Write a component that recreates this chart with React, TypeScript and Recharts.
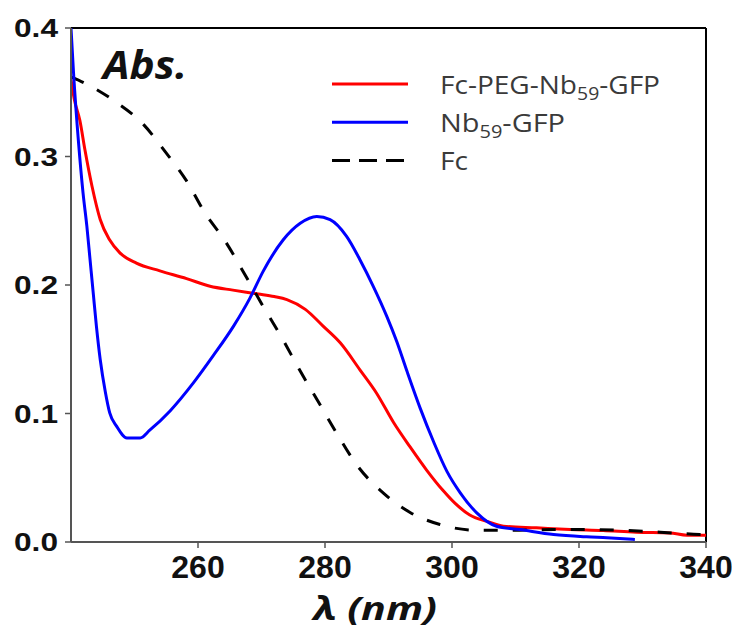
import React from "react"
import { LineChart, Line, XAxis, YAxis, ReferenceLine } from "recharts"

// absorbance spectra (nm, Abs.)
const fcPegNm = [240, 240.5, 241.4, 242.2, 243.3, 244.6, 246.1, 247.7, 250.3, 254, 258.2, 261.9, 265.5, 269.5, 272, 274, 276.9, 279.7, 282.4, 285.5, 288.1, 290.8, 293.4, 296, 298.6, 300.5, 302.8, 305.5, 308.1, 313.3, 318.6, 323.8, 329, 334.3, 337, 340]
const fcPegAbs = [0.36, 0.345, 0.328, 0.305, 0.277, 0.251, 0.235, 0.225, 0.217, 0.211, 0.205, 0.199, 0.196, 0.193, 0.191, 0.1886, 0.181, 0.168, 0.155, 0.134, 0.116, 0.093, 0.074, 0.056, 0.04, 0.03, 0.021, 0.016, 0.0123, 0.011, 0.0097, 0.0089, 0.0076, 0.0071, 0.0053, 0.0053]

const nbGfpNm = [240, 240.4, 241.2, 241.9, 242.5, 243, 243.5, 244, 244.6, 245.4, 246.1, 247.2, 248.8, 250.9, 252.4, 255.6, 259.3, 262.4, 265.6, 268.2, 270.3, 273.4, 276.1, 278.7, 280.8, 283.4, 285.5, 287.6, 289.7, 291.3, 292.9, 295, 297.1, 299.2, 301.3, 303.9, 307, 310.7, 316, 321.2, 324.4, 328.8]
const nbGfpAbs = [0.4, 0.365, 0.31, 0.2715, 0.2456, 0.2197, 0.1938, 0.168, 0.142, 0.117, 0.1005, 0.09, 0.081, 0.081, 0.087, 0.102, 0.124, 0.145, 0.168, 0.19, 0.211, 0.235, 0.248, 0.2533, 0.2508, 0.2378, 0.2197, 0.199, 0.176, 0.156, 0.133, 0.104, 0.078, 0.055, 0.0383, 0.0227, 0.0123, 0.0097, 0.0058, 0.004, 0.0033, 0.002]

const fcNm = [240, 243, 246.9, 251.4, 254.8, 258.2, 261.1, 264.3, 267.4, 270.3, 273.2, 276.1, 278.9, 281.8, 285, 289.2, 293.4, 298.1, 303.9, 309.6, 315.9, 321.2, 326.5, 332.8, 339, 340]
const fcAbs = [0.362, 0.355, 0.343, 0.325, 0.304, 0.281, 0.256, 0.234, 0.208, 0.183, 0.159, 0.133, 0.1095, 0.085, 0.06, 0.038, 0.023, 0.0136, 0.0092, 0.0092, 0.0097, 0.0097, 0.0092, 0.0076, 0.0058, 0.0056]

const xTicks = [260, 280, 300, 320, 340]
const yTicks = [0, 0.1, 0.2, 0.3, 0.4]

const toPoints = (nm: number[], abs: number[]) => nm.map((x, i) => ({ nm: x, abs: abs[i] }))

const series = [
  { key: "fcpeg", name: "Fc-PEG-Nb59-GFP", color: "#ff0000", dash: undefined, data: toPoints(fcPegNm, fcPegAbs) },
  { key: "fc", name: "Fc", color: "#000000", dash: "14 15", data: toPoints(fcNm, fcAbs) },
  { key: "nbgfp", name: "Nb59-GFP", color: "#0000ff", dash: undefined, data: toPoints(nbGfpNm, nbGfpAbs) },
]
const legendOrder = ["fcpeg", "nbgfp", "fc"]
// rendered text widths in the legend, px
const legendWidth: Record<string, number> = { fcpeg: 220, nbgfp: 125, fc: 28 }

const YTick = ({ x, y, payload }: any) => (
  <text
    x={x - 5}
    y={y}
    textAnchor="end"
    dominantBaseline="central"
    fontFamily="Liberation Sans, Arial, sans-serif"
    fontWeight="bold"
    fontSize={26}
    fill="#111"
    textLength={44}
    lengthAdjust="spacingAndGlyphs"
  >
    {Number(payload.value).toFixed(1)}
  </text>
)

const XTick = ({ x, y, payload }: any) => (
  <text
    x={x}
    y={y + 28}
    textAnchor="middle"
    fontFamily="Liberation Sans, Arial, sans-serif"
    fontWeight="bold"
    fontSize={32}
    fill="#111"
  >
    {payload.value}
  </text>
)

// "Nb59" -> Nb with subscript 59
const withSub = (name: string) => {
  const parts = name.split("59")
  return parts.map((p, i) => (
    <React.Fragment key={i}>
      {i > 0 && (
        <tspan dy={6} fontSize={18}>
          59
        </tspan>
      )}
      <tspan dy={i > 0 ? -6 : 0}>{p}</tspan>
    </React.Fragment>
  ))
}

export default function App() {
  return (
    <div style={{ position: "absolute", left: 0, top: 0, width: 732, height: 634, background: "#fff" }}>
      <LineChart width={732} height={634} margin={{ top: 28, right: 26, bottom: 32, left: 0 }}>
        <XAxis
          type="number"
          dataKey="nm"
          domain={[240, 340]}
          ticks={xTicks}
          allowDataOverflow
          height={60}
          stroke="#555"
          axisLine={{ stroke: "#555", strokeWidth: 2 }}
          tickLine={{ stroke: "#555", strokeWidth: 1.5 }}
          tickSize={6}
          tick={<XTick />}
        />
        <YAxis
          type="number"
          domain={[0, 0.4]}
          ticks={yTicks}
          allowDataOverflow
          width={71}
          axisLine={{ stroke: "#555", strokeWidth: 2 }}
          tickLine={{ stroke: "#555", strokeWidth: 1.5 }}
          tickSize={6}
          tick={<YTick />}
        />
        <ReferenceLine y={0.4} stroke="#000" strokeWidth={2} />
        <ReferenceLine x={340} stroke="#000" strokeWidth={2} />
        {series.map((s) => (
          <Line
            key={s.key}
            data={s.data}
            dataKey="abs"
            name={s.name}
            type="monotone"
            stroke={s.color}
            strokeWidth={3}
            strokeDasharray={s.dash}
            dot={false}
            activeDot={false}
            isAnimationActive={false}
          />
        ))}
      </LineChart>
      <svg width={732} height={634} style={{ position: "absolute", left: 0, top: 0, pointerEvents: "none" }}>
        <text
          x={103}
          y={79}
          fontFamily="Open Sans, sans-serif"
          fontWeight="bold"
          fontStyle="italic"
          fontSize={40}
          fill="#111"
          textLength={84}
          lengthAdjust="spacingAndGlyphs"
        >
          Abs.
        </text>
        {legendOrder.map((k, i) => {
          const s = series.find((d) => d.key === k)!
          const cy = 84 + i * 38.3
          return (
            <g key={k}>
              <line
                x1={332}
                x2={408}
                y1={cy}
                y2={cy}
                stroke={s.color}
                strokeWidth={3}
                strokeDasharray={s.dash ? "18 9" : undefined}
              />
              <text
                x={440}
                y={cy + 9.5}
                fontFamily="Open Sans, sans-serif"
                fontSize={26}
                fill="#3a3a3a"
                textLength={legendWidth[k]}
                lengthAdjust="spacingAndGlyphs"
              >
                {withSub(s.name)}
              </text>
            </g>
          )
        })}
        <text
          x={375}
          y={620}
          textAnchor="middle"
          fontFamily="Open Sans, sans-serif"
          fontWeight="bold"
          fontStyle="italic"
          fontSize={32}
          fill="#111"
          textLength={124}
          lengthAdjust="spacingAndGlyphs"
        >
          λ (nm)
        </text>
      </svg>
    </div>
  )
}
